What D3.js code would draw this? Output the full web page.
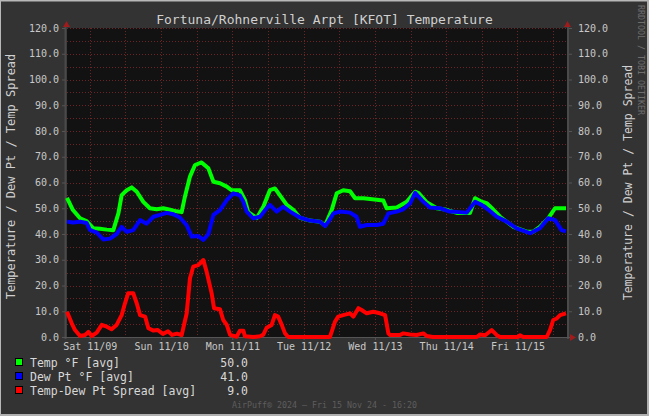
<!DOCTYPE html>
<html><head><meta charset="utf-8">
<script src="https://cdn.jsdelivr.net/npm/d3@7/dist/d3.min.js"></script>
<style>
body{margin:0;background:#333}
svg{display:block}
text{font-family:"DejaVu Sans Mono",monospace}
</style>
</head><body>
<svg id="c" width="649" height="416"></svg>
<script>
// ---------- data ----------
const titleText = "Fortuna/Rohnerville Arpt [KFOT] Temperature";
const axisTitle = "Temperature / Dew Pt / Temp Spread";
const startTime = new Date(2024, 10, 8, 16, 20);
const endTime = new Date(2024, 10, 15, 16, 20);
const dayLabels = ["Sat 11/09", "Sun 11/10", "Mon 11/11", "Tue 11/12", "Wed 11/13", "Thu 11/14", "Fri 11/15"];
const yTicks = [0, 10, 20, 30, 40, 50, 60, 70, 80, 90, 100, 110, 120];

const tempHours = [0, 2.0, 4.4, 6.6, 8.9, 11.1, 13.4, 15.6, 17.3, 18.4, 20.1, 21.8, 23.5, 25.7, 27.9, 30.2, 32.4, 34.7, 36.9, 38.6, 39.7, 41.4, 43.1, 45.3, 47.6, 49.3, 51.5, 53.8, 55.4, 58.2, 59.9, 61.0, 63.9, 66.1, 68.3, 70.0, 71.7, 74.0, 76.2, 78.4, 81.8, 85.2, 86.9, 89.1, 90.8, 93.0, 95.3, 97.0, 99.8, 106.5, 107.6, 111.0, 114.4, 117.2, 118.3, 121.1, 124.5, 127.8, 131.2, 135.7, 137.4, 139.6, 141.3, 143.5, 145.8, 150.3, 154.8, 157.0, 159.2, 162.0, 164.3, 167.1, 168];
const tempValues = [54, 49.3, 46.1, 45, 42.2, 42, 41.7, 41.5, 48, 55.1, 57, 58.1, 56.4, 52.5, 50, 49.6, 50, 49.4, 48.8, 48.5, 54.5, 62.3, 66.8, 67.8, 65.5, 60.3, 59.7, 58.4, 57, 57, 53.2, 48.5, 46.2, 50.6, 57, 57.7, 55, 51.3, 49.4, 46.3, 45.2, 44.8, 43.3, 49.3, 55.8, 57, 56.6, 53.9, 53.9, 53, 50, 50.3, 52.5, 56.4, 56, 52.3, 50, 49.4, 48.2, 48.2, 53.9, 52.5, 52, 49.5, 46.7, 42.8, 40.9, 40.9, 42.8, 46.1, 50, 50, 50];

const dewHours = [0, 2.0, 4.4, 6.6, 7.7, 10.0, 12.2, 14.5, 16.7, 18.4, 20.1, 22.3, 24.6, 26.8, 29.1, 31.3, 33.6, 35.8, 38.0, 40.3, 42.0, 44.2, 45.9, 47.6, 49.3, 51.5, 53.8, 56.0, 58.2, 59.4, 60.5, 62.7, 65.0, 67.2, 68.3, 70.6, 72.8, 75.1, 78.4, 81.8, 85.2, 86.9, 88.0, 89.7, 91.9, 95.3, 97.5, 98.6, 100.9, 104.3, 106.5, 108.2, 111.0, 113.2, 115.5, 117.2, 120.0, 122.2, 125.6, 128.9, 134.6, 137.4, 139.6, 141.9, 144.7, 148.0, 151.4, 155.9, 159.2, 162.0, 164.3, 166.5, 168];
const dewValues = [44.8, 44.5, 44.8, 44.3, 41.6, 40.5, 37.9, 38.2, 40, 42.8, 40.8, 41.5, 45.4, 44, 46.7, 47.4, 48.2, 47.7, 46.4, 43.4, 39, 39.2, 37.7, 40, 47.4, 49.3, 53.2, 55.8, 55, 52.5, 48.7, 46.1, 46.7, 50, 51.3, 48.7, 50.6, 48.7, 46.4, 45.2, 44.8, 43.1, 44.8, 48, 48.7, 48.3, 46.7, 42.8, 43.5, 43.5, 44, 48, 48.7, 49.6, 51.9, 56, 52.5, 50.3, 50, 48.7, 48.3, 52.5, 51.3, 49.4, 46.7, 44.8, 42.2, 40.3, 42.2, 46.1, 45.4, 41.5, 41];

const spreadHours = [0, 1.6, 2.7, 4.4, 6.1, 7.2, 8.3, 10.0, 11.7, 13.4, 15.0, 16.7, 18.4, 19.5, 20.6, 22.3, 23.5, 24.6, 26.3, 27.4, 29.1, 30.6, 32.3, 34.0, 35.4, 37.0, 38.6, 40.3, 41.4, 42.5, 44.2, 45.9, 47.0, 48.7, 49.5, 51.5, 52.6, 53.8, 54.9, 57.1, 58.2, 59.4, 59.9, 62.7, 65.0, 66.1, 67.2, 68.9, 70.0, 71.1, 72.3, 73.4, 74.5, 88.5, 89.1, 90.2, 91.3, 93.0, 95.3, 96.4, 98.1, 99.2, 100.9, 103.1, 105.4, 107.1, 108.2, 108.7, 112.1, 113.2, 115.5, 117.7, 120.0, 121.1, 123.2, 138.0, 139.1, 140.8, 143.0, 144.7, 145.8, 151.8, 152.5, 153.6, 161.5, 162.6, 163.7, 164.9, 166.0, 168];
const spreadValues = [9.8, 5.3, 2.7, 0.4, 0.8, 2, 0.4, 1.7, 4.7, 4, 3, 4.7, 8.5, 13, 17, 17, 13, 8.5, 7.9, 3.4, 2.5, 2.7, 1.2, 2.2, 0.8, 1.3, 0.7, 9.2, 22.8, 27.3, 27.9, 29.9, 25.4, 17, 11.2, 10.8, 6.6, 4.7, 0.8, 0.1, 2.4, 2.4, 0.3, 0, 0.3, 0.9, 3.6, 4.7, 8.5, 7.9, 4.7, 1.4, 0, 0, 2, 5.9, 7.9, 8.5, 9.2, 7.9, 11.2, 10.5, 9.2, 9.8, 9.2, 8.5, 1.4, 0.8, 0.8, 1.4, 1, 0.8, 1.4, 0.4, 0, 0, 1, 0.7, 2.7, 0.7, 0, 0, 0.7, 0, 0, 2.7, 6.6, 7.2, 8.5, 9.2];

const legendNames = ["Temp °F [avg]", "Dew Pt °F [avg]", "Temp-Dew Pt Spread [avg]"];
const legendColors = ["#00ff00", "#0000ff", "#ff0000"];
const legendLast = [50.0, 41.0, 9.0];
const footerText = "AirPuff® 2024 – Fri 15 Nov 24 - 16:20";
const watermark = "RRDTOOL / TOBI OETIKER";

// ---------- layout ----------
const W = 649, H = 416;
const L = 67, R = 566, T = 28, B = 337;
const svg = d3.select("#c");

svg.append("rect").attr("width", W).attr("height", H).attr("fill", "#333333");
// frame
svg.append("rect").attr("x", 0).attr("y", 0).attr("width", W).attr("height", 1.5).attr("fill", "#b8b8b8");
svg.append("rect").attr("x", 0).attr("y", 0).attr("width", 1).attr("height", H).attr("fill", "#b8b8b8");
svg.append("rect").attr("x", W - 2).attr("y", 0).attr("width", 2).attr("height", H).attr("fill", "#b0b0b0");
svg.append("rect").attr("x", 0).attr("y", H - 2).attr("width", W).attr("height", 2).attr("fill", "#b0b0b0");

const x = d3.scaleTime().domain([startTime, endTime]).range([L, R]);
const y = d3.scaleLinear().domain([0, 120]).range([B, T]);
const toDate = h => new Date(startTime.getTime() + h * 3600e3);

// plot background
svg.append("rect").attr("x", L).attr("y", T).attr("width", R - L + 1).attr("height", B - T)
  .attr("fill", "#121212");

// grid
const gridColor = "#6a2626";
const g = svg.append("g");
d3.range(0, 121, 5).forEach(v => {
  g.append("line").attr("x1", L).attr("x2", R + 1).attr("y1", Math.round(y(v)) + 0.5).attr("y2", Math.round(y(v)) + 0.5)
    .attr("stroke", gridColor).attr("stroke-width", 1).attr("stroke-dasharray", "1,2");
});
d3.timeHour.every(12).range(startTime, endTime).forEach(d => {
  const xx = Math.round(x(d)) + 0.5;
  g.append("line").attr("x1", xx).attr("x2", xx).attr("y1", T).attr("y2", B)
    .attr("stroke", gridColor).attr("stroke-width", 1).attr("stroke-dasharray", "1,2");
});

// axes lines
svg.append("line").attr("x1", L - 1.5).attr("x2", L - 1.5).attr("y1", T - 2).attr("y2", B + 2).attr("stroke", "#4a4a4a").attr("stroke-width", 2);
svg.append("line").attr("x1", R + 2).attr("x2", R + 2).attr("y1", T - 2).attr("y2", B + 2).attr("stroke", "#4a4a4a").attr("stroke-width", 2);
svg.append("line").attr("x1", L - 3).attr("x2", R + 4).attr("y1", B + 0.5).attr("y2", B + 0.5).attr("stroke", "#555").attr("stroke-width", 1);

// y axes (labels)
const fmt = d3.format(".1f");
const yl = svg.append("g").attr("transform", `translate(${L - 2},0)`)
  .call(d3.axisLeft(y).tickValues(yTicks).tickFormat(fmt).tickSize(3).tickPadding(3));
const yr = svg.append("g").attr("transform", `translate(${R + 3},0)`)
  .call(d3.axisRight(y).tickValues(yTicks).tickFormat(fmt).tickSize(3).tickPadding(6));
[yl, yr].forEach(a => {
  a.select(".domain").remove();
  a.selectAll("line").attr("stroke", "#555");
  a.selectAll("text").attr("fill", "#c8c8c8").style("font-family", "'DejaVu Sans Mono',monospace").style("font-size", "10px");
});

// x axis labels
const days = d3.timeDay.range(d3.timeDay.ceil(startTime), endTime);
const xa = svg.append("g").attr("transform", `translate(0,${B + 1})`)
  .call(d3.axisBottom(x).tickValues(days).tickFormat((d, i) => dayLabels[i]).tickSize(2).tickPadding(3));
xa.select(".domain").remove();
xa.selectAll("line").attr("stroke", "#555");
xa.selectAll("text").attr("fill", "#c8c8c8").style("font-family", "'DejaVu Sans Mono',monospace").style("font-size", "10px");

// arrows
const arrowColor = "#a01c1c";
svg.append("path").attr("d", `M${L - 4},${T - 1} L${L + 3},${T - 1} L${L - 0.5},${T - 7} Z`).attr("fill", arrowColor);
svg.append("path").attr("d", `M${R - 2},${T - 1} L${R + 5},${T - 1} L${R + 1.5},${T - 7} Z`).attr("fill", arrowColor);
svg.append("path").attr("d", `M${R + 4},${B - 3} L${R + 4},${B + 4} L${R + 10},${B + 0.5} Z`).attr("fill", arrowColor);

// series
const line = d3.line().x(d => x(toDate(d[0]))).y(d => y(d[1])).curve(d3.curveLinear);
const series = [
  [tempHours, tempValues, legendColors[0]],
  [dewHours, dewValues, legendColors[1]],
  [spreadHours, spreadValues, legendColors[2]]
];
series.forEach(([hs, vs, c]) => {
  svg.append("path").datum(hs.map((h, i) => [h, vs[i]]))
    .attr("d", line).attr("fill", "none").attr("stroke", c)
    .attr("stroke-width", 4).attr("stroke-linejoin", "round").attr("stroke-linecap", "butt");
});

// title
svg.append("text").attr("x", 324.5).attr("y", 23.5).attr("text-anchor", "middle")
  .attr("fill", "#d0d0d0").style("font-size", "13px").text(titleText);

// axis titles
svg.append("text").attr("transform", `translate(15,${(T + B) / 2 - 6}) rotate(-90)`).attr("text-anchor", "middle")
  .attr("fill", "#d0d0d0").style("font-size", "12px").text(axisTitle);
svg.append("text").attr("transform", `translate(632,${(T + B) / 2}) rotate(-90)`).attr("text-anchor", "middle")
  .attr("fill", "#d0d0d0").style("font-size", "11.5px").text(axisTitle);

// watermark
svg.append("text").attr("transform", `translate(638,5) rotate(90)`).attr("text-anchor", "start")
  .attr("fill", "#6e6e6e").style("font-size", "8.3px").text(watermark);

// legend
legendNames.forEach((n, i) => {
  const yy = 363 + i * 14;
  svg.append("rect").attr("x", 15.5).attr("y", yy - 4.5).attr("width", 7).attr("height", 7)
    .attr("fill", legendColors[i]).attr("stroke", "#000").attr("stroke-width", 1);
  svg.append("text").attr("x", 30).attr("y", yy + 4).attr("fill", "#d8d8d8").style("font-size", "11.5px").text(n);
  svg.append("text").attr("x", 248).attr("y", yy + 4).attr("text-anchor", "end").attr("fill", "#d8d8d8")
    .style("font-size", "11.5px").text(fmt(legendLast[i]));
});

// footer
svg.append("text").attr("x", 324.5).attr("y", 408).attr("text-anchor", "middle")
  .attr("fill", "#5e5e5e").style("font-size", "8.3px").text(footerText);
</script>
</body></html>
